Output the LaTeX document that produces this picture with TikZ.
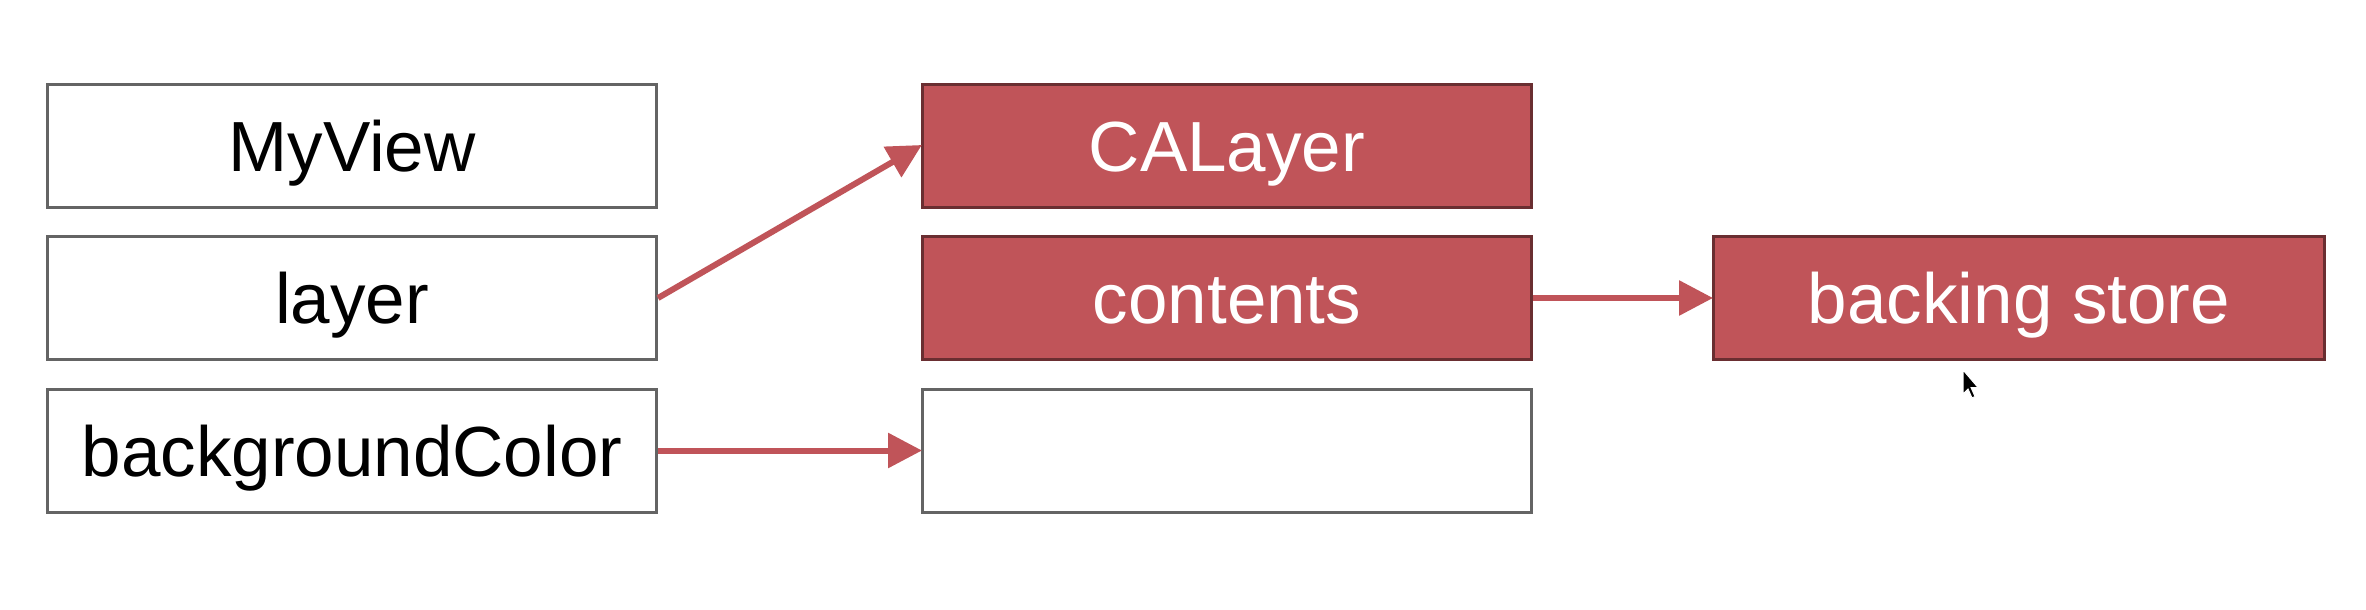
\documentclass[tikz,border=0pt]{standalone}
\usepackage{fontspec}
\setmainfont{Liberation Sans}
\usetikzlibrary{arrows.meta}
\definecolor{boxred}{RGB}{192,84,89}
\definecolor{boxline}{RGB}{100,100,100}
\tikzset{
  plainbox/.style={draw=boxline, line width=3pt, fill=white, minimum width=609pt, minimum height=123pt, inner sep=0pt, text=black, text height=51pt, text depth=-8pt, font=\fontsize{71}{85}\selectfont},
  redbox/.style={plainbox, fill=boxred, draw=black!45!boxred, text=white},
  link/.style={draw=boxred, line width=6pt, -{Triangle[length=34pt,width=34pt]}, shorten >=-1pt}
}
\begin{document}
\begin{tikzpicture}[x=1pt,y=-1pt]
\useasboundingbox[fill=white] (0,0) rectangle (2366,610);
\node[plainbox] (myview) at (352,145.5) {MyView};
\node[plainbox] (layer) at (352,298) {layer};
\node[plainbox] (bg) at (352,450.5) {backgroundColor};
\node[redbox] (calayer) at (1227,145.5) {CALayer};
\node[redbox] (contents) at (1227,298) {contents};
\node[plainbox] (empty) at (1227,450.5) {};
\node[redbox, minimum width=611pt] (backing) at (2019,298) {backing store};
\draw[link] (layer.east) -- (calayer.west);
\draw[link] (contents.east) -- (backing.west);
\draw[link] (bg.east) -- (empty.west);
\coordinate (cur) at (1963,370);
\fill[black, draw=white, line width=1pt] (cur) -- ++(0,24) -- ++(5,-5) -- ++(4,9) -- ++(3,-1.5) -- ++(-4,-9) -- ++(7,0) -- cycle;
\end{tikzpicture}
\end{document}
